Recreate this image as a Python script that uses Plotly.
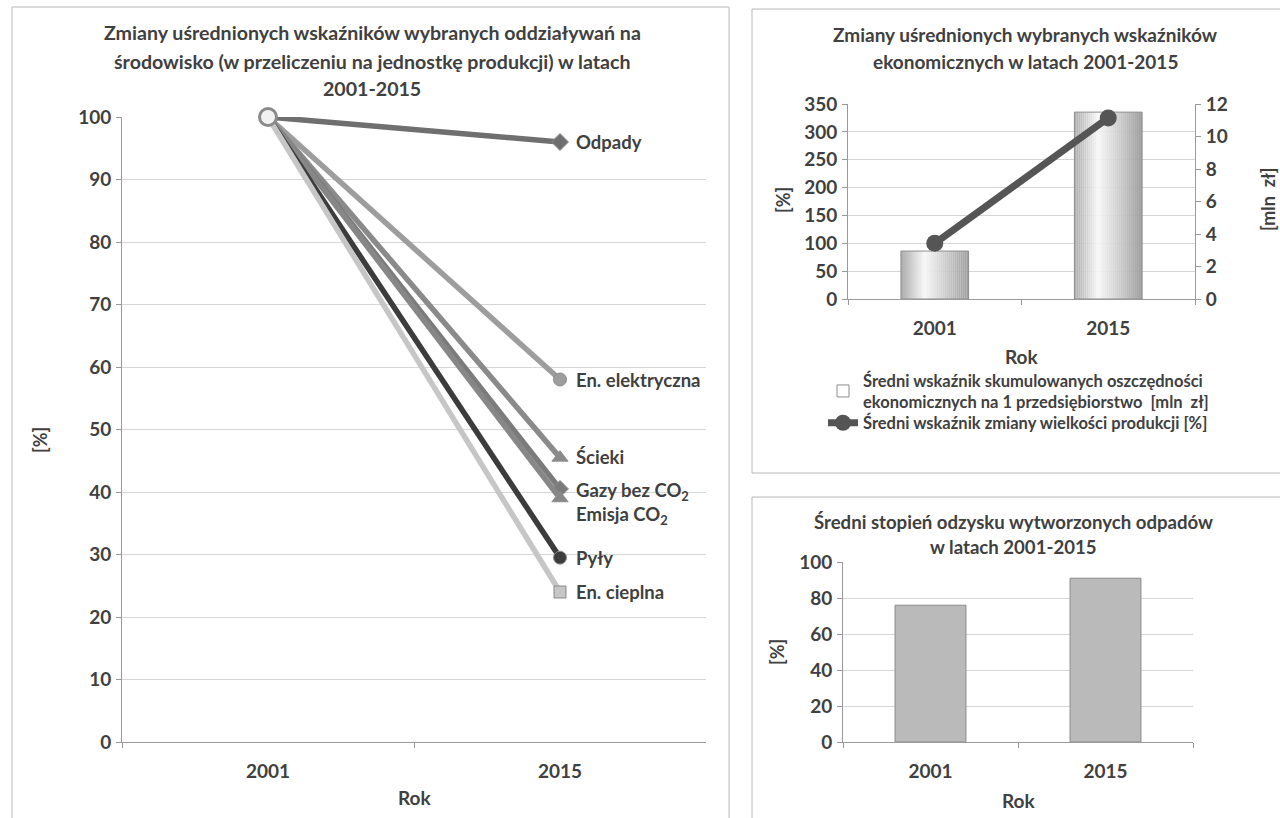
import plotly.graph_objects as go

W, H = 1280, 818


def px(x):
    return x / W


def py(y):
    return 1 - y / H


FONT = "Lato"
TXT = "#404040"
GRID = "#d6d6d6"
AXIS = "#9a9a9a"

years = ["2001", "2015"]

# Environmental impact indicators per unit of production [%]
odpady = [100, 96]
en_elektryczna = [100, 58]
scieki = [100, 45.5]
gazy_bez_co2 = [100, 40.5]
emisja_co2 = [100, 39]
pyly = [100, 29.5]
en_cieplna = [100, 24]

# Economic indicators
produkcja_pct = [100, 325]          # change in production volume [%]
oszczednosci_mln = [2.95, 11.5]     # cumulative savings per company [mln zł]

# Waste recovery rate [%]
odzysk_pct = [76, 91]

impact_series = [
    ("Odpady", odpady, "#6f6f6f", "diamond", 13, 0),
    ("En. elektryczna", en_elektryczna, "#9d9d9d", "circle", 13, 0),
    ("Ścieki", scieki, "#8a8a8a", "triangle-up", 14, 1),
    ("Gazy bez CO<sub>2</sub>", gazy_bez_co2, "#7b7b7b", "diamond", 13, -3),
    ("Emisja CO<sub>2</sub>", emisja_co2, "#878787", "triangle-up", 14, -17),
    ("Pyły", pyly, "#3c3c3c", "circle", 13, 0),
    ("En. cieplna", en_cieplna, "#c6c6c6", "square", 12, 0),
]

fig = go.Figure()

# ---- left chart: lines from 2001 to 2015 ----
for name, vals, color, symbol, size, _ in impact_series:
    fig.add_trace(go.Scatter(
        x=years, y=vals, mode="lines+markers", name=name,
        line=dict(color=color, width=5.5),
        marker=dict(symbol=symbol, size=size, color=color,
                    line=dict(color="#8c8c8c", width=1)),
        cliponaxis=False, showlegend=False,
        xaxis="x", yaxis="y",
    ))

# light marker on top of the common 2001 starting point
fig.add_trace(go.Scatter(
    x=years[:1], y=en_elektryczna[:1], mode="markers",
    marker=dict(symbol="circle", size=17, color="#f2f2f2",
                line=dict(color="#8a8a8a", width=3)),
    cliponaxis=False, showlegend=False, hoverinfo="skip",
    xaxis="x", yaxis="y",
))

annotations = []
for name, vals, color, symbol, size, dy in impact_series:
    annotations.append(dict(
        x=1, y=vals[1], xref="x", yref="y", text=name,
        xanchor="left", yanchor="middle", xshift=14, yshift=dy,
        showarrow=False, font=dict(family=FONT, size=18.5, color=TXT, weight="bold"),
    ))

# ---- top right chart: savings bars (shaded) + production line ----
BAR_W = 0.39
N_STRIPS = 34
for i in range(N_STRIPS):
    t = (i + 0.5) / N_STRIPS
    if t < 0.35:
        lum = 172 + (248 - 172) * (t / 0.35)
    else:
        lum = 248 - (248 - 158) * ((t - 0.35) / 0.65)
    c = int(round(lum))
    fig.add_trace(go.Bar(
        x=years, y=oszczednosci_mln,
        width=BAR_W / N_STRIPS * 1.05, offset=-BAR_W / 2 + i * BAR_W / N_STRIPS,
        marker=dict(color=f"rgb({c},{c},{c})", line=dict(width=0)),
        showlegend=False, hoverinfo="skip",
        xaxis="x2", yaxis="y2",
    ))
fig.add_trace(go.Bar(
    x=years, y=oszczednosci_mln, width=BAR_W, offset=-BAR_W / 2,
    name="Średni wskaźnik skumulowanych oszczędności<br>ekonomicznych na 1 przedsiębiorstwo  [mln  zł]",
    marker=dict(color="rgba(0,0,0,0)", line=dict(color="#8e8e8e", width=1)),
    legend="legend",
    xaxis="x2", yaxis="y2",
))
fig.add_trace(go.Scatter(
    x=years, y=produkcja_pct, mode="lines+markers",
    name="Średni wskaźnik zmiany wielkości produkcji [%]",
    line=dict(color="#555555", width=7),
    marker=dict(symbol="circle", size=17, color="#555555"),
    cliponaxis=False, legend="legend2",
    xaxis="x2", yaxis="y3",
))

# ---- bottom right chart: waste recovery bars ----
fig.add_trace(go.Bar(
    x=years, y=odzysk_pct, width=0.405,
    marker=dict(color="#bababa", line=dict(color="#8a8a8a", width=1)),
    showlegend=False, xaxis="x3", yaxis="y4",
))

tick_font = dict(family=FONT, size=19, color=TXT, weight="bold")


def cat_axis(domain, anchor):
    return dict(
        domain=domain, type="category", range=[-0.5, 1.5], anchor=anchor,
        showline=True, linecolor=AXIS, linewidth=1,
        ticks="outside", tickson="boundaries", ticklen=5, tickcolor=AXIS,
        showgrid=False, zeroline=False, tickfont=tick_font,
        ticklabelstandoff=12, fixedrange=True, automargin=False,
    )


def val_axis(domain, rng, dtick, anchor, **kw):
    d = dict(
        domain=domain, range=rng, dtick=dtick, anchor=anchor,
        showline=True, linecolor=AXIS, linewidth=1,
        ticks="outside", ticklen=5, tickcolor=AXIS,
        showgrid=True, gridcolor=GRID, gridwidth=1, zeroline=False,
        tickfont=tick_font, ticklabelstandoff=1, fixedrange=True,
        automargin=False,
    )
    d.update(kw)
    return d


def label(x, y, text, size=19, angle=0):
    return dict(
        x=px(x), y=py(y), xref="paper", yref="paper", text=text,
        showarrow=False, textangle=angle, xanchor="center", yanchor="middle",
        font=dict(family=FONT, size=size, color=TXT, weight="bold"),
    )


# chart titles, axis titles
annotations += [
    label(372, 33, "Zmiany uśrednionych wskaźników wybranych oddziaływań na", 19.6),
    label(372, 61, "środowisko (w przeliczeniu na jednostkę produkcji) w latach", 19.6),
    label(372, 88, "2001-2015", 19.6),
    label(40, 440, "[%]", 18, -90),
    label(414, 797, "Rok"),

    label(1025, 35, "Zmiany uśrednionych wybranych wskaźników"),
    label(1025, 62, "ekonomicznych w latach 2001-2015"),
    label(783, 200, "[%]", 18, -90),
    label(1268, 200, "[mln  zł]", 18, -90),
    label(1021, 356, "Rok"),

    label(1013, 522, "Średni stopień odzysku wytworzonych odpadów", 18.6),
    label(1013, 547, "w latach 2001-2015", 18.6),
    label(777, 652, "[%]", 18, -90),
    label(1018, 800, "Rok"),
]

# panel frames
frame = dict(type="rect", xref="paper", yref="paper",
             line=dict(color="#b8b8b8", width=1), fillcolor="rgba(0,0,0,0)", layer="below")
shapes = [
    dict(frame, x0=px(12), x1=px(729), y0=-0.02, y1=py(7)),
    dict(frame, x0=px(752), x1=1.02, y0=py(473), y1=py(9)),
    dict(frame, x0=px(752), x1=1.02, y0=-0.02, y1=py(497)),
]

legend_style = dict(
    xanchor="left", yanchor="middle",
    font=dict(family=FONT, size=16.5, color=TXT, weight="bold"),
    bgcolor="rgba(0,0,0,0)", itemwidth=30,
)

fig.update_layout(
    width=W, height=H, autosize=False,
    margin=dict(l=0, r=0, t=0, b=0, pad=0, autoexpand=False),
    paper_bgcolor="white", plot_bgcolor="rgba(0,0,0,0)",
    font=dict(family=FONT, color=TXT),
    barmode="overlay",
    xaxis=cat_axis([px(122), px(706)], "y"),
    yaxis=val_axis([py(742), py(117)], [0, 100], 10, "x"),
    xaxis2=cat_axis([px(848), px(1195)], "y2"),
    yaxis2=val_axis([py(299), py(104)], [0, 12], 2, "x2", side="right", showgrid=False),
    yaxis3=val_axis([py(299), py(104)], [0, 350], 50, "x2", side="left", overlaying="y2"),
    xaxis3=cat_axis([px(843), px(1193)], "y4"),
    yaxis4=val_axis([py(742), py(562)], [0, 100], 20, "x3"),
    legend=dict(legend_style, x=px(823), y=py(391)),
    legend2=dict(legend_style, x=px(823), y=py(423)),
    annotations=annotations,
    shapes=shapes,
)

fig.write_html("out.html")
